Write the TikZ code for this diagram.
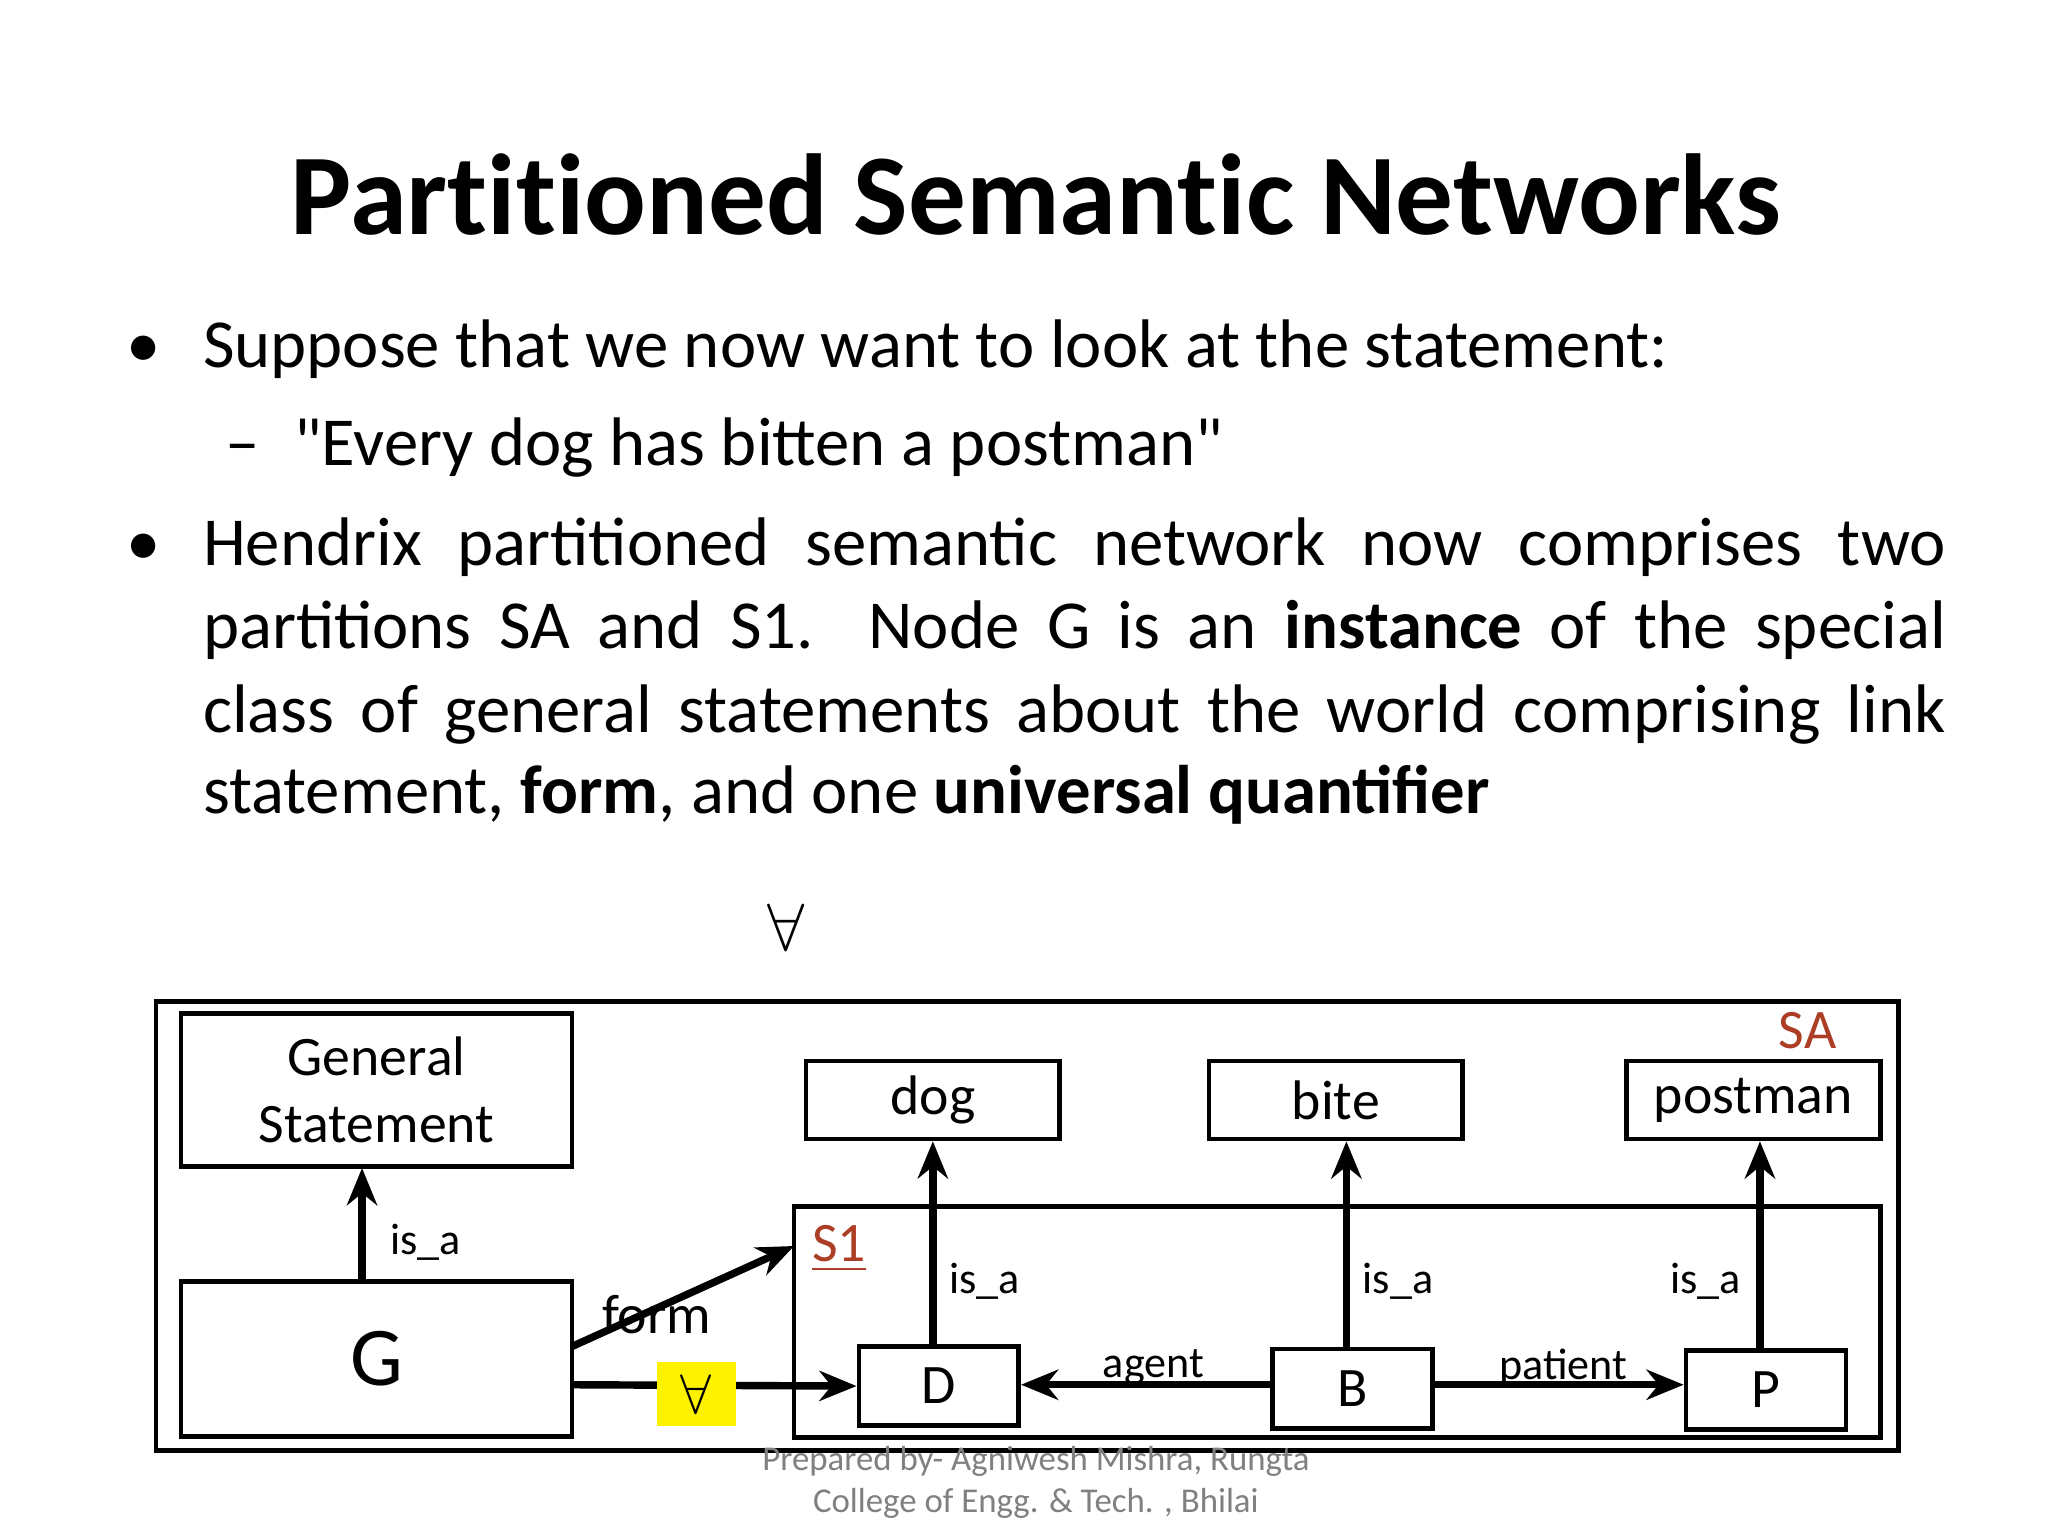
\documentclass[tikz,border=0pt]{standalone}
\usepackage{fontspec}
\setmainfont{Carlito}
\newfontfamily\titlefont[RawFeature=-liga]{Carlito}
\usetikzlibrary{arrows.meta}
\definecolor{sared}{RGB}{172,62,38}
\begin{document}
\begin{tikzpicture}[
  bx/.style={draw,line width=1pt,inner sep=0pt},
  arr/.style={line width=1.6pt,-{Stealth[length=8pt,width=6.5pt]}},
  lab/.style={font=\fontsize{9.5}{11}\selectfont}
]
\useasboundingbox (0,0) rectangle (15.5,-11.62);
\node[font=\titlefont\bfseries\fontsize{24.8}{30}\selectfont] (title) at (7.84,-1.47) {Partitioned Semantic Networks};
\begin{scope}[every node/.style={font=\fontsize{14.8}{18}\selectfont,anchor=base west,inner sep=0pt}]
\node (b1) at (0.95,-2.78) {•};
\node (t1) at (1.53,-2.78) {Suppose that we now want to look at the statement:};
\node (d1) at (1.70,-3.52) {–};
\node (t2) at (2.22,-3.52) {\textquotedbl Every dog has bitten a postman\textquotedbl};
\node (b2) at (0.95,-4.28) {•};
\node (l1) at (1.53,-4.28) {\makebox[13.19cm][s]{Hendrix partitioned semantic network now comprises two}};
\node (l2) at (1.53,-4.91) {\makebox[13.19cm][s]{partitions SA and S1.\ \ Node G is an \textbf{instance} of the special}};
\node (l3) at (1.53,-5.54) {\makebox[13.19cm][s]{class of general statements about the world comprising link}};
\node (l4) at (1.53,-6.16) {statement, \textbf{form}, and one \textbf{universal quantifier}};
\end{scope}
\node[font=\fontsize{14}{16}\selectfont] (fa) at (5.95,-7.02) {$\forall$};
% boxes
\draw[line width=1pt] (1.18,-7.58) rectangle (14.37,-10.98);
\draw[line width=1pt] (6.01,-9.13) rectangle (14.23,-10.88);
\node[bx,minimum width=2.96cm,minimum height=1.16cm,align=center,font=\fontsize{12}{14.5}\selectfont] (gs) at (2.85,-8.25) {General\\Statement};
\node[bx,minimum width=2.96cm,minimum height=1.17cm,font=\fontsize{18}{20}\selectfont] (g) at (2.85,-10.285) {G};
\node[bx,minimum width=1.92cm,minimum height=0.59cm,font=\fontsize{12}{14}\selectfont] (dog) at (7.06,-8.325) {dog};
\node[bx,minimum width=1.92cm,minimum height=0.59cm,font=\fontsize{12}{14}\selectfont] (bite) at (10.11,-8.325) {bite};
\node[bx,minimum width=1.92cm,minimum height=0.59cm,font=\fontsize{12}{14}\selectfont] (postman) at (13.27,-8.325) {postman};
\node[bx,minimum width=1.21cm,minimum height=0.60cm,font=\fontsize{12}{14}\selectfont] (D) at (7.105,-10.49) {D};
\node[bx,minimum width=1.21cm,minimum height=0.60cm,font=\fontsize{12}{14}\selectfont] (B) at (10.235,-10.51) {B};
\node[bx,minimum width=1.21cm,minimum height=0.60cm,font=\fontsize{12}{14}\selectfont] (P) at (13.365,-10.52) {P};
\node[font=\fontsize{12}{14}\selectfont,text=sared] (sa) at (13.68,-7.80) {SA};
\node[font=\fontsize{12}{14}\selectfont,text=sared] (s1) at (6.35,-9.45) {\underline{S1}};
% arrows
\draw[arr] (2.74,-9.70) -- (2.74,-8.84);
\node[lab] (isa0) at (3.22,-9.40) {is\_a};
\coordinate (fs) at (4.33,-10.19);
\coordinate (fe) at (6.01,-9.43);
\draw[arr] (fs) -- (fe);
\node[font=\fontsize{12}{14}\selectfont] (form) at (4.97,-9.95) {form};
\coordinate (gs2) at (4.33,-10.48);
\draw[arr] (gs2) -- (D.west);
\node[fill=yellow,minimum width=0.60cm,minimum height=0.48cm,inner sep=0pt,font=\fontsize{13}{14}\selectfont] (yq) at (5.27,-10.55) {$\forall$};
\draw[arr] (7.06,-10.19) -- (dog.south -| 7.06,0);
\draw[arr] (10.19,-10.21) -- (bite.south -| 10.19,0);
\draw[arr] (13.32,-10.22) -- (postman.south -| 13.32,0);
\node[lab] (isa1) at (7.45,-9.70) {is\_a};
\node[lab] (isa2) at (10.58,-9.70) {is\_a};
\node[lab] (isa3) at (12.91,-9.70) {is\_a};
\draw[arr] (B.west |- 0,-10.48) -- (D.east |- 0,-10.48);
\draw[arr] (B.east |- 0,-10.48) -- (P.west |- 0,-10.48);
\node[lab] (ag) at (8.73,-10.35) {agent};
\node[lab] (pa) at (11.83,-10.35) {patient};
\node[font=\fontsize{7.5}{9}\selectfont,text=gray,align=center] (foot) at (7.84,-11.22) {Prepared by- Agniwesh Mishra, Rungta\\College of Engg. \& Tech. , Bhilai};
\end{tikzpicture}
\end{document}
